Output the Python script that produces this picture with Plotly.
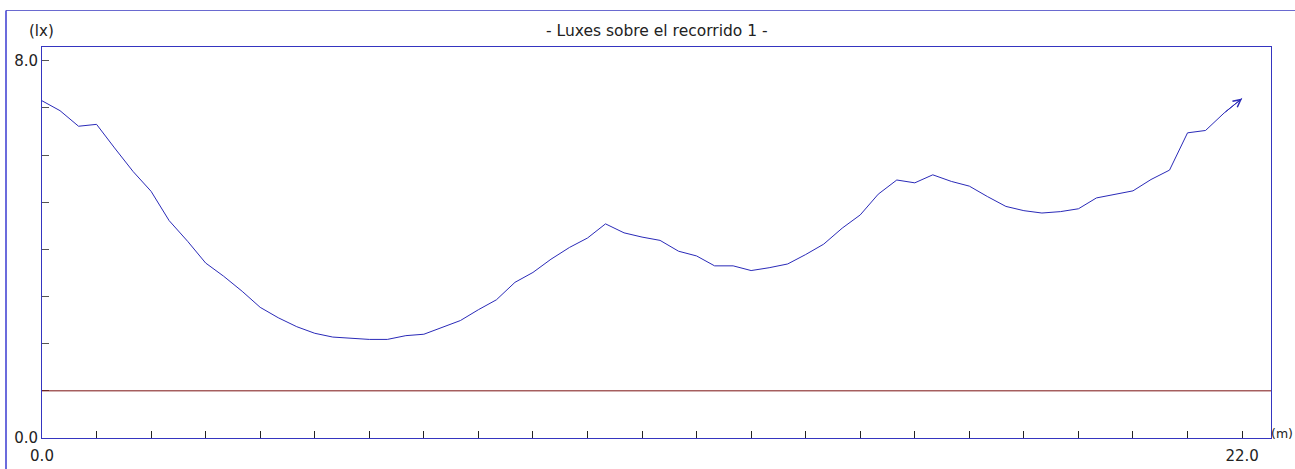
import plotly.graph_objects as go

# Distance along route (m) and illuminance (lx) at each sample point
distancia_m = [
    0.00, 0.33, 0.67, 1.00, 1.33, 1.67, 2.00, 2.33, 2.67, 3.00,
    3.33, 3.67, 4.00, 4.33, 4.67, 5.00, 5.33, 5.67, 6.00, 6.33,
    6.67, 7.00, 7.33, 7.67, 8.00, 8.33, 8.67, 9.00, 9.33, 9.67,
    10.00, 10.33, 10.67, 11.00, 11.33, 11.67, 12.00, 12.33, 12.67, 13.00,
    13.33, 13.67, 14.00, 14.33, 14.67, 15.00, 15.33, 15.67, 16.00, 16.33,
    16.67, 17.00, 17.33, 17.67, 18.00, 18.33, 18.67, 19.00, 19.33, 19.67,
    20.00, 20.33, 20.67, 21.00, 21.33, 21.67, 22.00,
]
luxes = [
    7.15, 6.94, 6.61, 6.65, 6.15, 5.65, 5.23, 4.61, 4.17, 3.71,
    3.43, 3.11, 2.77, 2.55, 2.36, 2.22, 2.14, 2.12, 2.09, 2.09,
    2.17, 2.20, 2.34, 2.49, 2.72, 2.93, 3.30, 3.51, 3.79, 4.04,
    4.24, 4.54, 4.35, 4.26, 4.19, 3.96, 3.86, 3.65, 3.65, 3.55,
    3.61, 3.69, 3.89, 4.11, 4.45, 4.73, 5.17, 5.47, 5.41, 5.58,
    5.44, 5.34, 5.12, 4.91, 4.82, 4.77, 4.80, 4.86, 5.09, 5.16,
    5.24, 5.48, 5.68, 6.47, 6.52, 6.89, 7.20,
]
umbral_lx = 1.0

y_ticks = [0, 1, 2, 3, 4, 5, 6, 7, 8]
y_labels = ["0.0", "", "", "", "", "", "", "", "8.0"]
x_ticks = list(range(0, 23))
x_labels = ["0.0"] + [""] * 21 + ["22.0"]

FONT = "Verdana, DejaVu Sans, sans-serif"
TXT = "#222222"
FRAME = "#3535c0"
CURVE = "#2a2ab8"

# plot area in pixels: x 42..1271, y 47..438
PW, PH = 1229, 391


def px(xp):
    return (xp - 42) / PW


def py(yp):
    return (438 - yp) / PH


fig = go.Figure()
fig.add_trace(go.Scatter(
    x=distancia_m, y=luxes, mode="lines",
    line=dict(color=CURVE, width=1), hoverinfo="x+y", showlegend=False,
))

# chevron at the end of the route
fig.add_annotation(
    x=distancia_m[-1], y=luxes[-1], ax=distancia_m[-2], ay=luxes[-2],
    xref="x", yref="y", axref="x", ayref="y", text="",
    showarrow=True, arrowhead=5, arrowsize=1.5, arrowwidth=1,
    arrowcolor=CURVE, standoff=0, startstandoff=0,
)

# minimum level line
fig.add_shape(type="line", xref="paper", x0=0, x1=1, yref="y",
              y0=umbral_lx, y1=umbral_lx, line=dict(color="#7a1010", width=1))

# outer frame of the panel
fig.add_shape(type="line", xref="paper", yref="paper",
              x0=px(6), x1=1.1, y0=py(10.5), y1=py(10.5),
              line=dict(color="#6a6ad0", width=1))
fig.add_shape(type="line", xref="paper", yref="paper",
              x0=px(6), x1=px(6), y0=-0.2, y1=py(10.5),
              line=dict(color="#3a3ad0", width=1.5))

# texts around the plot
fig.add_annotation(text="- Luxes sobre el recorrido 1 -", xref="paper", yref="paper",
                   x=px(656.5), y=py(31), showarrow=False,
                   xanchor="center", yanchor="middle",
                   font=dict(family=FONT, size=15.5, color=TXT))
fig.add_annotation(text="(lx)", xref="paper", yref="paper",
                   x=px(27), y=py(31), showarrow=False,
                   xanchor="left", yanchor="middle",
                   font=dict(family=FONT, size=15, color=TXT))
fig.add_annotation(text="(m)", xref="paper", yref="paper",
                   x=px(1295), y=py(433), showarrow=False,
                   xanchor="right", yanchor="middle",
                   font=dict(family=FONT, size=12.5, color=TXT))

fig.update_layout(
    width=1295, height=469,
    margin=dict(l=42, r=24, t=47, b=31, pad=0),
    paper_bgcolor="white", plot_bgcolor="white",
    font=dict(family=FONT, size=15, color=TXT),
    xaxis=dict(
        range=[0, 22.53], tickmode="array", tickvals=x_ticks, ticktext=x_labels,
        ticks="inside", ticklen=7, tickcolor="#222222", tickwidth=1,
        showgrid=False, zeroline=False, showline=True, linecolor=FRAME,
        linewidth=1, mirror=True, ticklabelstandoff=4, automargin=False,
        tickfont=dict(family=FONT, size=15, color=TXT),
    ),
    yaxis=dict(
        range=[0, 8.29], tickmode="array", tickvals=y_ticks, ticktext=y_labels,
        ticks="inside", ticklen=7, tickcolor="#555555", tickwidth=1,
        showgrid=False, zeroline=False, showline=True, linecolor=FRAME,
        linewidth=1, mirror=True, automargin=False,
        tickfont=dict(family=FONT, size=15, color=TXT),
    ),
)

fig.write_html("out.html")
